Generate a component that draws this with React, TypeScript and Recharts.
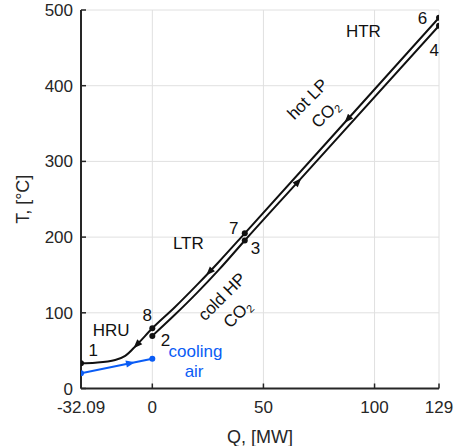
import { ComposedChart, Line, Scatter, XAxis, YAxis, CartesianGrid } from "recharts";

const Q_TICKS = [-32.09, 0, 50, 100, 129];
const T_TICKS = [0, 100, 200, 300, 400, 500];

// hot LP CO2: 1 -> HRU -> 8 -> LTR -> 7 -> HTR -> 6 (listed by rising Q, flows toward lower Q)
const hotQ = [-32.09, -25.7, -16.7, -12.2, -6.9, 0, 10, 20, 25.8, 30, 41.6, 88, 129];
const hotT = [33.3, 34.1, 37.6, 43, 58, 79.5, 107, 136.5, 154.3, 167.5, 205, 356, 489.8];
const hotMark = ["dot", "", "", "", "arrow", "dot", "", "", "arrow", "", "dot", "arrow", "dot"];

// cold HP CO2: 2 -> LTR -> 3 -> HTR -> 4
const coldQ = [0, 10, 20, 30, 41.6, 65.5, 129];
const coldT = [69.5, 97, 126, 157, 195.5, 273, 479.3];
const coldMark = ["dot", "", "", "", "dot", "arrow", "dot"];

// cooling air
const airQ = [-32.09, -10, 0];
const airT = [20, 33.4, 39.4];
const airMark = ["dot", "arrow", "dot"];

// annotations
const noteText = ["1", "8", "2", "HRU", "LTR", "cooling", "air", "3", "7", "6", "4", "HTR", "hot LP", "CO2", "cold HP", "CO2"];
const noteQ = [-26.6, -2.3, 5.9, -18.5, 16.2, 19.4, 18.8, 46.4, 36.6, 121.6, 126.9, 95, 69.9, 78, 31.4, 38.4];
const noteT = [49.6, 97, 64, 77, 191, 48.5, 23, 185.6, 211.6, 489.4, 447, 471, 382, 362.6, 121, 98.4];
const noteRot = [0, 0, 0, 0, 0, 0, 0, 0, 0, 0, 0, 0, -45, -45, -45, -45];
const noteBlue = [false, false, false, false, false, true, true, false, false, false, false, false, false, false, false, false];

const BLUE = "#0a5cf5";
const INK = "#111111";
const AXIS = "#262626";
const FONT = "'Liberation Sans', Arial, sans-serif";

const zip = (q: number[], t: number[]) => q.map((v, i) => ({ q: v, t: t[i] }));
const hotData = zip(hotQ, hotT);
const coldData = zip(coldQ, coldT);
const airData = zip(airQ, airT);
const notes = noteText.map((text, i) => ({
  q: noteQ[i], t: noteT[i], text, rot: noteRot[i], blue: noteBlue[i],
}));

function makeMarker(marks: string[], dir: number, color: string) {
  return (props: any) => {
    const { cx, cy, index, points } = props;
    const m = marks[index];
    if (m === "dot") return <circle key={`d${index}`} cx={cx} cy={cy} r={3} fill={color} />;
    if (m === "arrow" && points && points[index - 1] && points[index + 1]) {
      const a = points[index - 1];
      const b = points[index + 1];
      let ang = (Math.atan2(b.y - a.y, b.x - a.x) * 180) / Math.PI;
      if (dir < 0) ang += 180;
      return (
        <path
          key={`a${index}`}
          d="M5,0 L-4,-3.5 L-4,3.5 Z"
          fill={color}
          transform={`translate(${cx},${cy}) rotate(${ang})`}
        />
      );
    }
    return <g key={`n${index}`} />;
  };
}

function NoteShape(props: any) {
  const { cx, cy, payload } = props;
  const color = payload.blue ? BLUE : INK;
  const isCO2 = payload.text === "CO2";
  return (
    <text
      x={cx}
      y={cy}
      fill={color}
      fontSize={17}
      fontFamily={FONT}
      textAnchor="middle"
      dominantBaseline="central"
      transform={payload.rot ? `rotate(${payload.rot},${cx},${cy})` : undefined}
    >
      {isCO2 ? (
        <>
          CO<tspan fontSize={11} dy={5}>2</tspan>
        </>
      ) : (
        payload.text
      )}
    </text>
  );
}

export default function App() {
  return (
    <div style={{ position: "absolute", left: 0, top: 0, width: 456, height: 446, background: "#fff" }}>
      <ComposedChart width={456} height={446} margin={{ top: 10, right: 17, bottom: 0, left: 0 }}>
        <CartesianGrid stroke="#e0e0e0" strokeWidth={1} />
        <XAxis
          dataKey="q"
          type="number"
          domain={[-32.09, 129]}
          ticks={Q_TICKS}
          interval={0}
          allowDataOverflow
          height={57.5}
          tickFormatter={(v: number) => String(v)}
          axisLine={{ stroke: AXIS, strokeWidth: 2 }}
          tickLine={{ stroke: AXIS, strokeWidth: 1.5 }}
          tickSize={-5}
          tickMargin={17.5}
          tick={{ fill: AXIS, fontSize: 17, fontFamily: FONT }}
          label={{
            content: ({ viewBox }: any) => (
              <text
                x={viewBox.x + viewBox.width / 2}
                y={437}
                textAnchor="middle"
                dominantBaseline="central"
                fill={AXIS}
                fontSize={18}
                fontFamily={FONT}
              >
                Q, [MW]
              </text>
            ),
          }}
        />
        <YAxis
          dataKey="t"
          type="number"
          domain={[0, 500]}
          ticks={T_TICKS}
          interval={0}
          allowDataOverflow
          width={81}
          axisLine={{ stroke: AXIS, strokeWidth: 2 }}
          tickLine={{ stroke: AXIS, strokeWidth: 1.5 }}
          tickSize={-5}
          tickMargin={13}
          tick={{ fill: AXIS, fontSize: 17, fontFamily: FONT }}
          label={{
            content: ({ viewBox }: any) => {
              const x = viewBox.x + 29;
              const y = viewBox.y + viewBox.height / 2;
              return (
                <text
                  x={x}
                  y={y}
                  textAnchor="middle"
                  fill={AXIS}
                  fontSize={18}
                  fontFamily={FONT}
                  transform={`rotate(-90,${x},${y})`}
                >
                  T, [°C]
                </text>
              );
            },
          }}
        />
        <Line
          data={hotData}
          dataKey="t"
          type="monotone"
          stroke={INK}
          strokeWidth={2}
          dot={makeMarker(hotMark, -1, INK)}
          activeDot={false}
          isAnimationActive={false}
        />
        <Line
          data={coldData}
          dataKey="t"
          type="monotone"
          stroke={INK}
          strokeWidth={2}
          dot={makeMarker(coldMark, 1, INK)}
          activeDot={false}
          isAnimationActive={false}
        />
        <Line
          data={airData}
          dataKey="t"
          type="linear"
          stroke={BLUE}
          strokeWidth={2}
          dot={makeMarker(airMark, 1, BLUE)}
          activeDot={false}
          isAnimationActive={false}
        />
        <Scatter data={notes} dataKey="t" shape={NoteShape} isAnimationActive={false} />
      </ComposedChart>
    </div>
  );
}
